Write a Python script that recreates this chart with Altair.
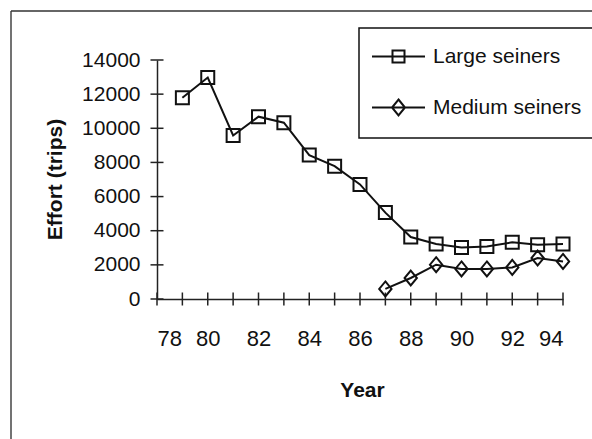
import altair as alt
import pandas as pd

FONT = "Liberation Sans"

# ---- data ----
series_names = ["Large seiners", "Medium seiners"]
years_large = [79, 80, 81, 82, 83, 84, 85, 86, 87, 88, 89, 90, 91, 92, 93, 94]
large_trips = [11790, 12970, 9580, 10680, 10330, 8430, 7780, 6710, 5060, 3630,
               3220, 3020, 3080, 3320, 3180, 3220]
years_medium = [87, 88, 89, 90, 91, 92, 93, 94]
medium_trips = [590, 1230, 2010, 1760, 1760, 1850, 2400, 2200]

y_tick_values = [0, 2000, 4000, 6000, 8000, 10000, 12000, 14000]
x_tick_values = list(range(78, 95))
x_label_values = [78, 80, 82, 84, 86, 88, 90, 92, 94]

rows = [{"year": y, "effort": v, "series": series_names[0]} for y, v in zip(years_large, large_trips)]
rows += [{"year": y, "effort": v, "series": series_names[1]} for y, v in zip(years_medium, medium_trips)]
df = pd.DataFrame(rows)

x_scale = alt.Scale(domain=[78, 94], nice=False, zero=False)
y_scale = alt.Scale(domain=[0, 14000], nice=False)

INK = "#111111"

x_axis = alt.Axis(values=x_label_values, format="d", ticks=False, grid=False,
                  labelPadding=29, labelFontSize=22, labelColor=INK, labelFont=FONT,
                  domainColor="#222", domainWidth=1.5,
                  title="Year", titleFont=FONT, titleFontSize=21, titleFontWeight="bold",
                  titleColor=INK, titleX=205, titleY=97, titleBaseline="alphabetic")
y_axis = alt.Axis(values=y_tick_values, format="d", ticks=False, grid=False,
                  labelPadding=17, labelFontSize=21, labelColor=INK, labelFont=FONT,
                  domainColor="#222", domainWidth=1.5,
                  title="Effort (trips)", titleFont=FONT, titleFontSize=21,
                  titleFontWeight="bold", titleColor=INK, titleX=-96, titleY=119,
                  titleAngle=270, titleAlign="center", titleBaseline="alphabetic")

# marker shapes
DIAMOND = "M0,-1.15L0.95,0L0,1.15L-0.95,0Z"
LEG_SQUARE = "M-2.944,0H2.944M-0.667,-0.667H0.667V0.667H-0.667Z"
LEG_DIAMOND = "M-2.944,0H2.944M0,-0.889L0.722,0L0,0.889L-0.722,0Z"

base = alt.Chart(df)

lines = base.mark_line(color=INK, strokeWidth=2).encode(
    x=alt.X("year:Q", scale=x_scale, axis=x_axis),
    y=alt.Y("effort:Q", scale=y_scale, axis=y_axis),
    detail="series:N",
)

points = base.mark_point(filled=False, size=169, strokeWidth=2, color=INK, opacity=1).encode(
    x=alt.X("year:Q", scale=x_scale, axis=x_axis),
    y=alt.Y("effort:Q", scale=y_scale, axis=y_axis),
    shape=alt.Shape("series:N", scale=alt.Scale(domain=series_names, range=["square", DIAMOND]),
                    legend=None),
)

legend_layer = base.mark_point(filled=False, opacity=0, color=INK).encode(
    x=alt.X("year:Q", scale=x_scale, axis=x_axis),
    y=alt.Y("effort:Q", scale=y_scale, axis=y_axis),
    shape=alt.Shape("series:N",
                    scale=alt.Scale(domain=series_names, range=[LEG_SQUARE, LEG_DIAMOND]),
                    legend=alt.Legend(title=None,
                                      orient="none", legendX=202, legendY=-32,
                                      padding=18, strokeColor=INK,
                                      fillColor="white",
                                      symbolSize=324, symbolOffset=11, labelOffset=24,
                                      rowPadding=28, symbolStrokeWidth=2,
                                      symbolStrokeColor=INK, symbolFillColor="transparent",
                                      symbolOpacity=1, labelFontSize=21, labelFont=FONT,
                                      labelColor=INK, labelLimit=0)),
)

ytick_df = pd.DataFrame({"effort": y_tick_values})
yticks = alt.Chart(ytick_df).mark_tick(orient="horizontal", size=13, thickness=1.5,
                                       color="#222", opacity=1).encode(
    y=alt.Y("effort:Q", scale=y_scale, axis=y_axis),
    x=alt.XDatum(78, type="quantitative", scale=x_scale, axis=x_axis),
)

xtick_df = pd.DataFrame({"year": x_tick_values})
xticks = alt.Chart(xtick_df).mark_tick(orient="vertical", size=13, thickness=1.5,
                                       color="#222", opacity=1).encode(
    x=alt.X("year:Q", scale=x_scale, axis=x_axis),
    y=alt.YDatum(0, type="quantitative", scale=y_scale, axis=y_axis),
)

frame_data = alt.Data(values=[{"k": 0}])
frame_left = alt.Chart(frame_data).mark_rule(color="#444", strokeWidth=1.5).encode(
    x=alt.value(-146), y=alt.value(-49), y2=alt.value(379))
frame_top = alt.Chart(frame_data).mark_rule(color="#333", strokeWidth=1.5).encode(
    x=alt.value(-146), x2=alt.value(435), y=alt.value(-49))

chart = alt.layer(yticks, xticks, lines, points, legend_layer, frame_left, frame_top).resolve_scale(
    shape="independent"
).properties(
    width=406, height=239,
    padding={"left": 157, "top": 60, "right": 29, "bottom": 140},
    autosize=alt.AutoSizeParams(type="none"),
    background="white",
    view=alt.ViewBackground(stroke="transparent", strokeOpacity=0),
).configure(
    font=FONT,
    style={"cell": {"stroke": "transparent", "strokeOpacity": 0}},
).configure_view(stroke="transparent", strokeOpacity=0).configure_axis(
    grid=False
).configure_legend(strokeWidth=1.5)

chart.save("out.html", embed_options={"renderer": "svg", "actions": False})
